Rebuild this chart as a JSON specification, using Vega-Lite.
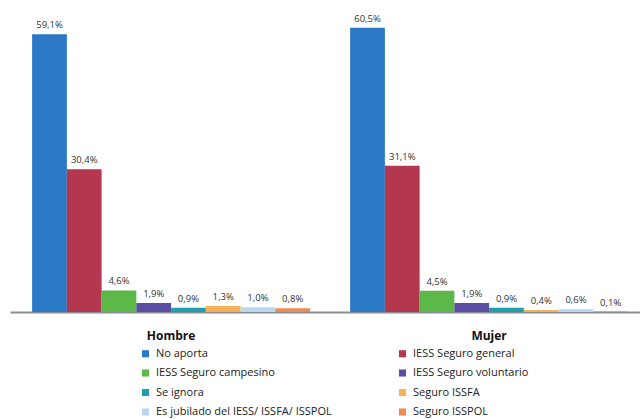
{
  "$schema": "https://vega.github.io/schema/vega-lite/v6.json",
  "width": 630,
  "height": 312,
  "autosize": {"type": "none"},
  "padding": {"left": 10, "top": 0, "right": 0, "bottom": 107},
  "config": {
    "view": {"stroke": null},
    "font": "Open Sans",
    "locale": {"number": {"decimal": ",", "thousands": ".", "grouping": [3], "currency": ["$", ""]}}
  },
  "data": {
    "values": [
      {"genero": "Hombre", "categoria": "No aporta", "orden": 1, "valor": 0.591},
      {"genero": "Hombre", "categoria": "IESS Seguro general", "orden": 2, "valor": 0.304},
      {"genero": "Hombre", "categoria": "IESS Seguro campesino", "orden": 3, "valor": 0.046},
      {"genero": "Hombre", "categoria": "IESS Seguro voluntario", "orden": 4, "valor": 0.019},
      {"genero": "Hombre", "categoria": "Se ignora", "orden": 5, "valor": 0.009},
      {"genero": "Hombre", "categoria": "Seguro ISSFA", "orden": 6, "valor": 0.013},
      {"genero": "Hombre", "categoria": "Es jubilado del IESS/ ISSFA/ ISSPOL", "orden": 7, "valor": 0.010},
      {"genero": "Hombre", "categoria": "Seguro ISSPOL", "orden": 8, "valor": 0.008},
      {"genero": "Mujer", "categoria": "No aporta", "orden": 1, "valor": 0.605},
      {"genero": "Mujer", "categoria": "IESS Seguro general", "orden": 2, "valor": 0.311},
      {"genero": "Mujer", "categoria": "IESS Seguro campesino", "orden": 3, "valor": 0.045},
      {"genero": "Mujer", "categoria": "IESS Seguro voluntario", "orden": 4, "valor": 0.019},
      {"genero": "Mujer", "categoria": "Se ignora", "orden": 5, "valor": 0.009},
      {"genero": "Mujer", "categoria": "Seguro ISSFA", "orden": 6, "valor": 0.004},
      {"genero": "Mujer", "categoria": "Es jubilado del IESS/ ISSFA/ ISSPOL", "orden": 7, "valor": 0.006},
      {"genero": "Mujer", "categoria": "Seguro ISSPOL", "orden": 8, "valor": 0.001}
    ]
  },
  "encoding": {
    "x": {
      "field": "genero", "type": "nominal",
      "scale": {"paddingInner": 0.126, "paddingOuter": 0.0535, "align": 0.65},
      "axis": {"title": null, "labelAngle": 0, "labelFontWeight": "bold", "labelFontSize": 12, "labelColor": "#111", "labelPadding": 18, "ticks": false, "domainColor": "#8a8f96", "domainWidth": 2}
    },
    "xOffset": {
      "field": "categoria", "type": "nominal",
      "sort": ["No aporta", "IESS Seguro general", "IESS Seguro campesino", "IESS Seguro voluntario", "Se ignora", "Seguro ISSFA", "Es jubilado del IESS/ ISSFA/ ISSPOL", "Seguro ISSPOL"],
      "scale": {"paddingInner": 0, "paddingOuter": 0}
    },
    "y": {
      "field": "valor", "type": "quantitative",
      "scale": {"domain": [0, 0.664]},
      "axis": null
    }
  },
  "layer": [
    {
      "mark": {"type": "bar"},
      "encoding": {
        "color": {
          "field": "categoria", "type": "nominal",
          "sort": ["No aporta", "IESS Seguro general", "IESS Seguro campesino", "IESS Seguro voluntario", "Se ignora", "Seguro ISSFA", "Es jubilado del IESS/ ISSFA/ ISSPOL", "Seguro ISSPOL"],
          "scale": {
            "domain": ["No aporta", "IESS Seguro general", "IESS Seguro campesino", "IESS Seguro voluntario", "Se ignora", "Seguro ISSFA", "Es jubilado del IESS/ ISSFA/ ISSPOL", "Seguro ISSPOL"],
            "range": ["#2b78c6", "#b3384f", "#5cb848", "#5a4ea3", "#1f9fae", "#f5b058", "#b9d7ee", "#ee8a52"]
          },
          "legend": {
            "title": null, "orient": "none", "legendX": 130, "legendY": 348,
            "columns": 2, "direction": "horizontal", "symbolType": "square", "symbolSize": 50,
            "symbolStrokeWidth": 0, "labelFontSize": 11, "labelColor": "#222",
            "columnPadding": 65, "rowPadding": 7.5, "labelOffset": 5, "labelLimit": 300
          }
        }
      }
    },
    {
      "mark": {"type": "text", "dy": -9, "fontSize": 9.5, "color": "#333"},
      "encoding": {
        "text": {"field": "valor", "type": "quantitative", "format": ".1%"}
      }
    }
  ]
}
